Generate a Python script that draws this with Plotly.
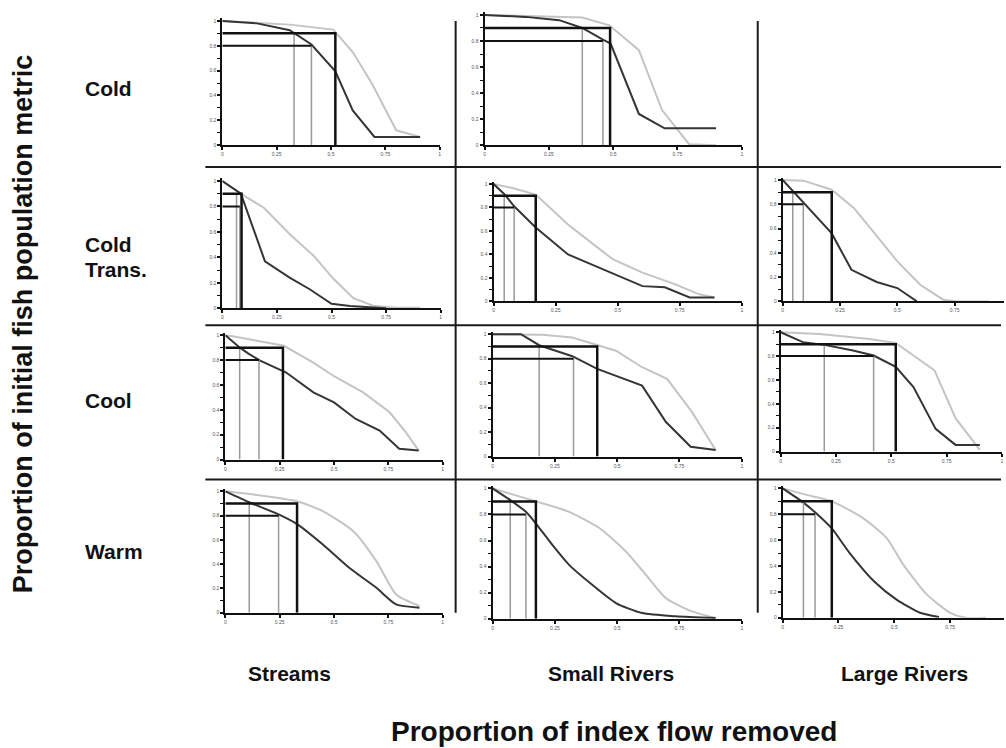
import plotly.graph_objects as go

W, H = 1006, 748

# Reference levels of the initial metric
LEVEL_HI = 0.9
LEVEL_LO = 0.8

# ---- Cold / Streams ----
cold_streams_dark_x = [0, 0.16, 0.31, 0.41, 0.52, 0.60, 0.70, 0.91]
cold_streams_dark_y = [1.0, 0.98, 0.925, 0.81, 0.595, 0.28, 0.067, 0.067]
cold_streams_light_x = [0, 0.31, 0.51, 0.60, 0.69, 0.80, 0.91]
cold_streams_light_y = [1.0, 0.97, 0.93, 0.75, 0.49, 0.12, 0.067]
cold_streams_cut = [0.52, 0.33, 0.41]  # light @0.9, dark @0.9, dark @0.8

# ---- Cold / Small Rivers ----
cold_small_dark_x = [0, 0.16, 0.29, 0.38, 0.46, 0.49, 0.60, 0.70, 0.90]
cold_small_dark_y = [1.0, 0.985, 0.96, 0.9, 0.81, 0.78, 0.24, 0.13, 0.13]
cold_small_light_x = [0, 0.38, 0.485, 0.60, 0.69, 0.795, 0.90]
cold_small_light_y = [1.0, 0.98, 0.92, 0.73, 0.27, 0.008, 0.0]
cold_small_cut = [0.488, 0.38, 0.46]

# ---- Cold Trans. / Streams ----
coldtr_streams_dark_x = [0, 0.085, 0.195, 0.31, 0.40, 0.50, 0.585, 0.69, 0.75]
coldtr_streams_dark_y = [1.0, 0.9, 0.37, 0.24, 0.15, 0.036, 0.018, 0.005, 0.0]
coldtr_streams_light_x = [0, 0.095, 0.19, 0.31, 0.42, 0.51, 0.60, 0.69, 0.80, 0.905]
coldtr_streams_light_y = [1.0, 0.89, 0.79, 0.58, 0.41, 0.23, 0.08, 0.02, 0.005, 0.005]
coldtr_streams_cut = [0.088, 0.065, 0.08]

# ---- Cold Trans. / Small Rivers ----
coldtr_small_dark_x = [0, 0.043, 0.083, 0.17, 0.30, 0.42, 0.49, 0.60, 0.69, 0.79, 0.89]
coldtr_small_dark_y = [1.0, 0.915, 0.81, 0.63, 0.40, 0.29, 0.23, 0.13, 0.12, 0.034, 0.034]
coldtr_small_light_x = [0, 0.076, 0.17, 0.30, 0.40, 0.48, 0.60, 0.73, 0.826, 0.89]
coldtr_small_light_y = [1.0, 0.966, 0.91, 0.655, 0.49, 0.36, 0.245, 0.147, 0.062, 0.034]
coldtr_small_cut = [0.17, 0.043, 0.083]

# ---- Cold Trans. / Large Rivers ----
coldtr_large_dark_x = [0, 0.044, 0.09, 0.214, 0.30, 0.41, 0.50, 0.585]
coldtr_large_dark_y = [1.0, 0.91, 0.81, 0.56, 0.26, 0.16, 0.11, 0.0]
coldtr_large_light_x = [0, 0.09, 0.214, 0.31, 0.395, 0.50, 0.60, 0.70, 0.76, 0.90]
coldtr_large_light_y = [1.0, 0.995, 0.92, 0.77, 0.575, 0.33, 0.137, 0.014, 0.0, 0.0]
coldtr_large_cut = [0.214, 0.044, 0.09]

# ---- Cool / Streams ----
cool_streams_dark_x = [0, 0.067, 0.108, 0.16, 0.28, 0.405, 0.50, 0.60, 0.71, 0.80, 0.89]
cool_streams_dark_y = [1.0, 0.9, 0.85, 0.795, 0.70, 0.54, 0.46, 0.326, 0.233, 0.086, 0.072]
cool_streams_light_x = [0, 0.04, 0.146, 0.27, 0.405, 0.50, 0.634, 0.756, 0.83, 0.89]
cool_streams_light_y = [1.0, 0.99, 0.955, 0.915, 0.78, 0.67, 0.54, 0.38, 0.22, 0.072]
cool_streams_cut = [0.265, 0.066, 0.155]

# ---- Cool / Small Rivers ----
cool_small_dark_x = [0, 0.114, 0.187, 0.32, 0.42, 0.495, 0.60, 0.695, 0.795, 0.895]
cool_small_dark_y = [1.0, 1.0, 0.91, 0.82, 0.716, 0.66, 0.58, 0.284, 0.08, 0.054]
cool_small_light_x = [0, 0.2, 0.32, 0.42, 0.495, 0.60, 0.70, 0.80, 0.895]
cool_small_light_y = [1.0, 0.995, 0.973, 0.91, 0.865, 0.73, 0.635, 0.365, 0.054]
cool_small_cut = [0.42, 0.187, 0.325]

# ---- Cool / Large Rivers ----
cool_large_dark_x = [0, 0.10, 0.197, 0.327, 0.42, 0.52, 0.60, 0.70, 0.79, 0.90]
cool_large_dark_y = [1.0, 0.917, 0.894, 0.847, 0.805, 0.71, 0.54, 0.19, 0.056, 0.056]
cool_large_light_x = [0, 0.177, 0.40, 0.52, 0.60, 0.695, 0.79, 0.90]
cool_large_light_y = [1.0, 0.986, 0.944, 0.91, 0.805, 0.68, 0.28, 0.014]
cool_large_cut = [0.52, 0.197, 0.42]

# ---- Warm / Streams ----
warm_streams_dark_x = [0, 0.11, 0.245, 0.33, 0.45, 0.57, 0.695, 0.786, 0.893]
warm_streams_dark_y = [1.0, 0.91, 0.81, 0.73, 0.56, 0.37, 0.205, 0.068, 0.041]
warm_streams_light_x = [0, 0.145, 0.33, 0.45, 0.59, 0.695, 0.786, 0.893]
warm_streams_light_y = [1.0, 0.97, 0.918, 0.836, 0.67, 0.425, 0.15, 0.055]
warm_streams_cut = [0.33, 0.11, 0.245]

# ---- Warm / Small Rivers ----
warm_small_dark_x = [0, 0.071, 0.134, 0.174, 0.24, 0.307, 0.40, 0.495, 0.60, 0.735, 0.895]
warm_small_dark_y = [1.0, 0.91, 0.82, 0.73, 0.566, 0.413, 0.26, 0.12, 0.043, 0.018, 0.005]
warm_small_light_x = [0, 0.174, 0.307, 0.43, 0.535, 0.615, 0.695, 0.80, 0.895]
warm_small_light_y = [1.0, 0.90, 0.82, 0.694, 0.515, 0.337, 0.158, 0.056, 0.005]
warm_small_cut = [0.174, 0.071, 0.134]

# ---- Warm / Large Rivers ----
warm_large_dark_x = [0, 0.093, 0.145, 0.22, 0.30, 0.41, 0.51, 0.615, 0.70]
warm_large_dark_y = [1.0, 0.89, 0.815, 0.69, 0.5, 0.28, 0.14, 0.038, 0.005]
warm_large_light_x = [0, 0.107, 0.22, 0.36, 0.466, 0.54, 0.645, 0.75, 0.82, 0.91]
warm_large_light_y = [1.0, 0.95, 0.90, 0.77, 0.615, 0.41, 0.18, 0.038, 0.0, 0.0]
warm_large_cut = [0.22, 0.093, 0.145]

row_labels = ["Cold", "Cold", "Trans.", "Cool", "Warm"]
col_labels = ["Streams", "Small Rivers", "Large Rivers"]
x_title = "Proportion of index flow removed"
y_title = "Proportion of initial fish population metric"
x_tickvals = [0, 0.25, 0.5, 0.75, 1]
x_ticktext = ["0", "0.25", "0.5", "0.75", "1"]
y_tickvals = [0, 0.2, 0.4, 0.6, 0.8, 1]
y_ticktext = ["0", "0.2", "0.4", "0.6", "0.8", "1"]

# panel data + pixel frame (left, right at x=1, top at y=1, bottom at y=0)
panels = [
    (cold_streams_dark_x, cold_streams_dark_y, cold_streams_light_x, cold_streams_light_y, cold_streams_cut, (222, 440, 20, 145), "linear"),
    (cold_small_dark_x, cold_small_dark_y, cold_small_light_x, cold_small_light_y, cold_small_cut, (485, 743, 14, 145), "linear"),
    (coldtr_streams_dark_x, coldtr_streams_dark_y, coldtr_streams_light_x, coldtr_streams_light_y, coldtr_streams_cut, (222, 441, 181, 309), "linear"),
    (coldtr_small_dark_x, coldtr_small_dark_y, coldtr_small_light_x, coldtr_small_light_y, coldtr_small_cut, (494, 743, 184, 302), "linear"),
    (coldtr_large_dark_x, coldtr_large_dark_y, coldtr_large_light_x, coldtr_large_light_y, coldtr_large_cut, (784, 1014, 180, 302), "linear"),
    (cool_streams_dark_x, cool_streams_dark_y, cool_streams_light_x, cool_streams_light_y, cool_streams_cut, (225, 443, 336, 461), "linear"),
    (cool_small_dark_x, cool_small_dark_y, cool_small_light_x, cool_small_light_y, cool_small_cut, (493, 743, 335, 458), "linear"),
    (cool_large_dark_x, cool_large_dark_y, cool_large_light_x, cool_large_light_y, cool_large_cut, (782, 1004, 333, 453), "linear"),
    (warm_streams_dark_x, warm_streams_dark_y, warm_streams_light_x, warm_streams_light_y, warm_streams_cut, (225, 443, 493, 615), "spline"),
    (warm_small_dark_x, warm_small_dark_y, warm_small_light_x, warm_small_light_y, warm_small_cut, (493, 743, 490, 621), "spline"),
    (warm_large_dark_x, warm_large_dark_y, warm_large_light_x, warm_large_light_y, warm_large_cut, (784, 1008, 490, 620), "spline"),
]

DARK = "#353535"
LIGHT = "#c4c4c4"
GREY_V = "#9a9a9a"
BLACK = "#111111"
TICKFONT = dict(family="Liberation Sans", size=5, color="#555555")
YTOP = 1.02

fig = go.Figure()
layout_axes = {}

for i, (dx, dy, lx, ly, cut, frame, shape) in enumerate(panels, start=1):
    left, right, top, bottom = frame
    xr_max = 1.0
    right_px = right
    if right > W:
        xr_max = (W - left) / (right - left)
        right_px = W
    top_px = top - (YTOP - 1.0) * (bottom - top)
    xa = f"x{i}" if i > 1 else "x"
    ya = f"y{i}" if i > 1 else "y"
    xkey = f"xaxis{i}" if i > 1 else "xaxis"
    ykey = f"yaxis{i}" if i > 1 else "yaxis"
    layout_axes[xkey] = dict(
        domain=[left / W, right_px / W], range=[0, xr_max], anchor=ya,
        showgrid=False, zeroline=False, showline=True, linecolor=BLACK, linewidth=2,
        ticks="outside", ticklen=3, tickwidth=1.5, tickcolor=BLACK,
        tickvals=x_tickvals, ticktext=x_ticktext, tickfont=TICKFONT,
    )
    layout_axes[ykey] = dict(
        domain=[1 - bottom / H, 1 - top_px / H], range=[0, YTOP], anchor=xa,
        showgrid=False, zeroline=False, showline=True, linecolor=BLACK, linewidth=2,
        ticks="outside", ticklen=3, tickwidth=1.5, tickcolor=BLACK,
        tickvals=y_tickvals, ticktext=y_ticktext, tickfont=TICKFONT,
        minor=dict(tickvals=[0.1, 0.3, 0.5, 0.7, 0.9], ticks="outside", ticklen=3,
                   tickwidth=1.2, tickcolor=BLACK, showgrid=False),
    )
    c_light_hi, c_dark_hi, c_dark_lo = cut
    common = dict(xaxis=xa, yaxis=ya, mode="lines", hoverinfo="skip", showlegend=False)
    # response curves
    fig.add_trace(go.Scatter(x=lx, y=ly, line=dict(color=LIGHT, width=2, shape=shape, smoothing=0.6), **common))
    fig.add_trace(go.Scatter(x=dx, y=dy, line=dict(color=DARK, width=2, shape=shape, smoothing=0.6), **common))
    # grey drop lines where the dark curve reaches each level
    fig.add_trace(go.Scatter(x=[c_dark_hi, c_dark_hi], y=[0, LEVEL_HI], line=dict(color=GREY_V, width=1.5), **common))
    fig.add_trace(go.Scatter(x=[c_dark_lo, c_dark_lo], y=[0, LEVEL_LO], line=dict(color=GREY_V, width=1.5), **common))
    # black level lines
    fig.add_trace(go.Scatter(x=[0, c_dark_lo], y=[LEVEL_LO, LEVEL_LO], line=dict(color=BLACK, width=2), **common))
    fig.add_trace(go.Scatter(x=[0, c_light_hi, c_light_hi], y=[LEVEL_HI, LEVEL_HI, 0], line=dict(color=BLACK, width=2.5), **common))

# grid separators
shapes = []
for py in [167, 326, 481]:
    shapes.append(dict(type="line", xref="paper", yref="paper", x0=205 / W, x1=1003 / W,
                       y0=1 - py / H, y1=1 - py / H, line=dict(color="#1a1a1a", width=2)))
for px in [456, 759]:
    shapes.append(dict(type="line", xref="paper", yref="paper", x0=px / W, x1=px / W,
                       y0=1 - 20 / H, y1=1 - 615 / H, line=dict(color="#1a1a1a", width=2)))

LABEL_FONT = dict(family="Liberation Sans", size=21, color="#111111")
XTITLE_FONT = dict(family="Liberation Sans", size=28, color="#111111")
YTITLE_FONT = dict(family="Liberation Sans", size=27, color="#111111")
annotations = []
for text, py in zip(row_labels, [88, 245, 270, 402, 553]):
    annotations.append(dict(text=f"<b>{text}</b>", x=82 / W, y=1 - py / H, xref="paper", yref="paper",
                            xanchor="left", yanchor="middle", showarrow=False, font=LABEL_FONT))
for text, px in zip(col_labels, [289, 612, 906]):
    annotations.append(dict(text=f"<b>{text}</b>", x=px / W, y=1 - 676 / H, xref="paper", yref="paper",
                            xanchor="center", yanchor="middle", showarrow=False, font=LABEL_FONT))
annotations.append(dict(text=f"<b>{x_title}</b>", x=615 / W, y=1 - 734 / H, xref="paper", yref="paper",
                        xanchor="center", yanchor="middle", showarrow=False, font=XTITLE_FONT))
annotations.append(dict(text=f"<b>{y_title}</b>", x=22 / W, y=1 - 325 / H, xref="paper", yref="paper",
                        xanchor="center", yanchor="middle", textangle=-90, showarrow=False, font=YTITLE_FONT))

fig.update_layout(
    width=W, height=H, margin=dict(l=0, r=0, t=0, b=0),
    paper_bgcolor="white", plot_bgcolor="white",
    shapes=shapes, annotations=annotations, **layout_axes,
)

fig.write_html("out.html", config={"displayModeBar": False})
